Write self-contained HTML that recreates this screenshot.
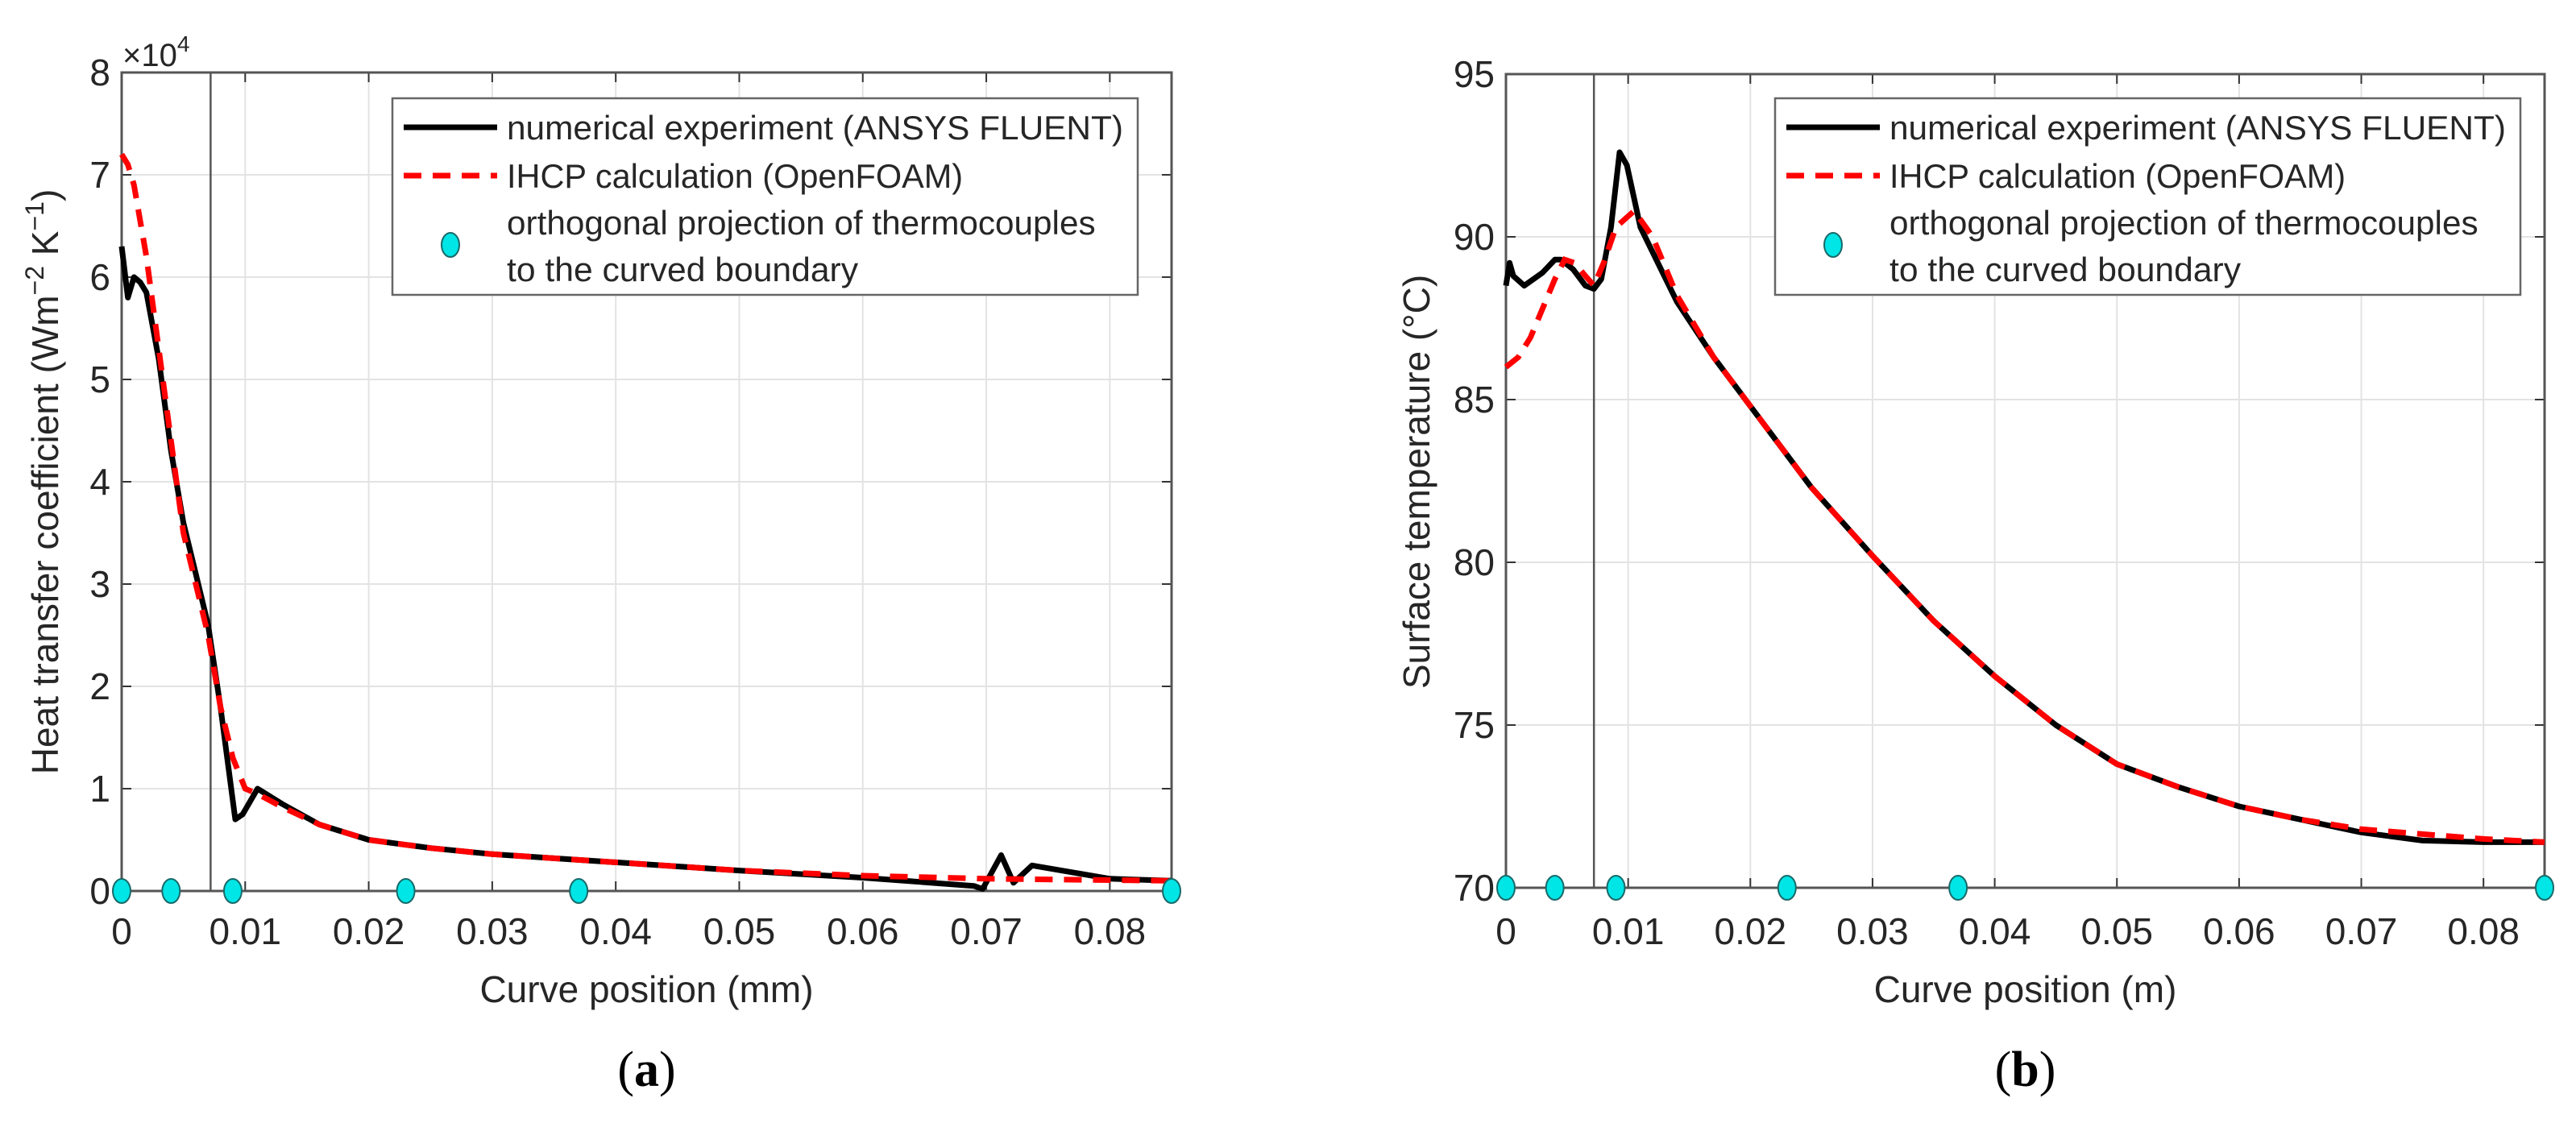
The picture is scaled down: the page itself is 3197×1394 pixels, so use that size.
<!DOCTYPE html>
<html><head><meta charset="utf-8"><style>
html,body{margin:0;padding:0;background:#fff}
svg text{font-family:"Liberation Sans",sans-serif;fill:#262626}
</style></head><body>
<svg id="fig" width="3197" height="1389" viewBox="0 0 3197 1389" xmlns="http://www.w3.org/2000/svg">
<g id="pa"></g>
<g id="pb"></g>
</svg>
<script>
// ---- Panel (a) data ----
const aXTicks = [0,0.01,0.02,0.03,0.04,0.05,0.06,0.07,0.08];
const aYTicks = [0,1,2,3,4,5,6,7,8];
const aBlackX = [0,0.0005,0.001,0.0015,0.002,0.003,0.004,0.005,0.006,0.007,0.008,0.0092,0.0098,0.011,0.013,0.016,0.02,0.025,0.03,0.035,0.04,0.045,0.05,0.06,0.069,0.0697,0.0712,0.0722,0.0737,0.08,0.085];
const aBlackY = [6.3,5.8,6.0,5.95,5.85,5.2,4.3,3.6,3.1,2.6,1.8,0.7,0.75,1.0,0.85,0.65,0.5,0.42,0.36,0.32,0.28,0.24,0.2,0.13,0.05,0.02,0.35,0.08,0.25,0.12,0.1];
const aRedX = [0,0.0005,0.001,0.002,0.003,0.004,0.005,0.006,0.007,0.008,0.009,0.010,0.011,0.013,0.016,0.02,0.025,0.03,0.035,0.04,0.045,0.05,0.06,0.07,0.085];
const aRedY = [7.2,7.1,6.9,6.2,5.3,4.4,3.5,3.0,2.5,1.8,1.3,1.0,0.95,0.82,0.65,0.5,0.42,0.36,0.32,0.28,0.24,0.2,0.15,0.12,0.1];
const aDotsX = [0,0.004,0.009,0.023,0.037,0.085];
const aDotsY = [0,0,0,0,0,0];
// ---- Panel (b) data ----
const bXTicks = [0,0.01,0.02,0.03,0.04,0.05,0.06,0.07,0.08];
const bYTicks = [70,75,80,85,90,95];
const bBlackX = [0,0.0003,0.0006,0.0015,0.003,0.004,0.0045,0.0055,0.0065,0.0072,0.0078,0.0086,0.0093,0.0099,0.011,0.014,0.017,0.02,0.025,0.03,0.035,0.04,0.045,0.05,0.055,0.06,0.065,0.07,0.075,0.08,0.085];
const bBlackY = [88.5,89.2,88.8,88.5,88.9,89.3,89.3,89.0,88.5,88.4,88.7,90.3,92.6,92.2,90.3,88.0,86.3,84.8,82.3,80.2,78.2,76.5,75.0,73.8,73.1,72.5,72.1,71.7,71.45,71.4,71.4];
const bRedX = [0,0.001,0.002,0.003,0.004,0.0048,0.0056,0.0065,0.0072,0.008,0.009,0.0105,0.012,0.014,0.017,0.02,0.025,0.03,0.035,0.04,0.045,0.05,0.055,0.06,0.065,0.07,0.08,0.085];
const bRedY = [86.0,86.3,86.9,87.8,88.7,89.3,89.2,88.8,88.5,89.2,90.3,90.8,90.0,88.2,86.3,84.8,82.3,80.2,78.2,76.5,75.0,73.8,73.1,72.5,72.1,71.8,71.5,71.4];
const bDotsX = [0,0.004,0.009,0.023,0.037,0.085];
const bDotsY = [70,70,70,70,70,70];

const NS="http://www.w3.org/2000/svg";
function mk(parent,tag,attrs,text){const e=document.createElementNS(NS,tag);for(const k in attrs)e.setAttribute(k,attrs[k]);if(text!==undefined)e.textContent=text;parent.appendChild(e);return e;}

function panel(g,cfg){
  const L=cfg.L,R=cfg.R,T=cfg.T,B=cfg.B;
  const sx=v=>L+(v-cfg.xmin)/(cfg.xmax-cfg.xmin)*(R-L);
  const sy=v=>B-(v-cfg.ymin)/(cfg.ymax-cfg.ymin)*(B-T);
  cfg.xt.forEach(v=>{const l=mk(g,'line',{x1:sx(v),x2:sx(v),y1:T,y2:B,stroke:'#e3e3e3','stroke-width':2});
    
    });
  cfg.yt.forEach(v=>{const l=mk(g,'line',{x1:L,x2:R,y1:sy(v),y2:sy(v),stroke:'#e3e3e3','stroke-width':2});
    
    });
  cfg.xt.forEach(v=>{
    mk(g,'line',{x1:sx(v),x2:sx(v),y1:B,y2:B-12,stroke:'#333','stroke-width':2});
    mk(g,'line',{x1:sx(v),x2:sx(v),y1:T,y2:T+12,stroke:'#333','stroke-width':2});
    const t=mk(g,'text',{x:sx(v),y:1172,'font-size':46,'text-anchor':'middle'},String(v));
    
    
  });
  cfg.yt.forEach(v=>{
    mk(g,'line',{x1:L,x2:L+12,y1:sy(v),y2:sy(v),stroke:'#333','stroke-width':2});
    mk(g,'line',{x1:R,x2:R-12,y1:sy(v),y2:sy(v),stroke:'#333','stroke-width':2});
    const t=mk(g,'text',{x:L-14,y:sy(v)+16,'font-size':46,'text-anchor':'end'},String(v));
    
    
  });
  const vl=mk(g,'line',{x1:sx(cfg.vline),x2:sx(cfg.vline),y1:T,y2:B,stroke:'#555','stroke-width':2.5});
  
  
  const bx=mk(g,'rect',{x:L,y:T,width:R-L,height:B-T,fill:'none',stroke:'#555','stroke-width':3});
  
  
  const pts=(X,Y)=>X.map((x,i)=>sx(x).toFixed(1)+','+sy(Y[i]).toFixed(1)).join(' ');
  const bl=mk(g,'polyline',{points:pts(cfg.bx,cfg.by),fill:'none',stroke:'#000','stroke-width':7,'stroke-linejoin':'round'});
  
  
  const rl=mk(g,'polyline',{points:pts(cfg.rx,cfg.ry),fill:'none',stroke:'#ff0000','stroke-width':7,'stroke-dasharray':'22 14'});
  
  
  cfg.dx.forEach((x,i)=>{const c=mk(g,'ellipse',{cx:sx(x),cy:sy(cfg.dy[i]),rx:11,ry:15,fill:'#00e5e5',stroke:'#1a6a6a','stroke-width':2});
    
    });
  const lg=mk(g,'g',{});
  
  
  const lx=cfg.lx;
  mk(lg,'rect',{x:lx,y:122,width:cfg.lw,height:244,fill:'#fff',stroke:'#666','stroke-width':2.5});
  mk(lg,'line',{x1:lx+14,x2:lx+130,y1:158,y2:158,stroke:'#000','stroke-width':7});
  mk(lg,'line',{x1:lx+14,x2:lx+130,y1:218,y2:218,stroke:'#ff0000','stroke-width':7,'stroke-dasharray':'22 14'});
  mk(lg,'ellipse',{cx:lx+72,cy:304,rx:11,ry:15,fill:'#00e5e5',stroke:'#1a6a6a','stroke-width':2});
  const tl=cfg.lw-160;
  const t1=mk(lg,'text',{x:lx+142,y:173,'font-size':42,textLength:tl,lengthAdjust:'spacingAndGlyphs'},'numerical experiment (ANSYS FLUENT)');
  
  
  const t2=mk(lg,'text',{x:lx+142,y:233,'font-size':42,textLength:tl*0.74,lengthAdjust:'spacingAndGlyphs'},'IHCP calculation (OpenFOAM)');
  
  
  const t3=mk(lg,'text',{x:lx+142,y:291,'font-size':42,textLength:tl*0.955,lengthAdjust:'spacingAndGlyphs'},'orthogonal projection of thermocouples');
  
  
  mk(lg,'text',{x:lx+142,y:349,'font-size':42,textLength:tl*0.57,lengthAdjust:'spacingAndGlyphs'},'to the curved boundary');
  const xt=mk(g,'text',{x:(L+R)/2,y:1244,'font-size':46,'text-anchor':'middle'},cfg.xlabel);
  
  
  const cap=mk(g,'text',{x:(L+R)/2,y:1348,'font-size':62,'text-anchor':'middle',style:'font-family:"Liberation Serif",serif;fill:#000'});
  
  
  mk(cap,'tspan',{},'(');mk(cap,'tspan',{'font-weight':'bold'},cfg.cap);mk(cap,'tspan',{},')');
  return {sx,sy};
}

const A=panel(document.getElementById('pa'),{L:151,R:1454,T:90,B:1106,xmin:0,xmax:0.085,ymin:0,ymax:8,
  xt:aXTicks,yt:aYTicks,bx:aBlackX,by:aBlackY,rx:aRedX,ry:aRedY,dx:aDotsX,dy:aDotsY,vline:0.0072,lx:487,lw:925,
  xlabel:'Curve position (mm)',cap:'a'});
const B=panel(document.getElementById('pb'),{L:1869,R:3158,T:92,B:1102,xmin:0,xmax:0.085,ymin:70,ymax:95,
  xt:bXTicks,yt:bYTicks,bx:bBlackX,by:bBlackY,rx:bRedX,ry:bRedY,dx:bDotsX,dy:bDotsY,vline:0.0072,lx:2203,lw:925,
  xlabel:'Curve position (m)',cap:'b'});

const pa=document.getElementById('pa');
const ya=mk(pa,'text',{x:0,y:0,'font-size':46,'text-anchor':'middle',transform:'translate(72,598) rotate(-90)'});


mk(ya,'tspan',{},'Heat transfer coefficient (Wm');
mk(ya,'tspan',{'font-size':32,dy:-18},'−2');
mk(ya,'tspan',{dy:18},' K');
mk(ya,'tspan',{'font-size':32,dy:-18},'−1');
mk(ya,'tspan',{dy:18},')');
const ex=mk(pa,'text',{x:152,y:82,'font-size':40});


mk(ex,'tspan',{},'×10');
mk(ex,'tspan',{'font-size':28,dy:-18},'4');
const pb=document.getElementById('pb');
const yb=mk(pb,'text',{x:0,y:0,'font-size':46,'text-anchor':'middle',transform:'translate(1774,598) rotate(-90)'},'Surface temperature (°C)');


</script>
</body></html>
